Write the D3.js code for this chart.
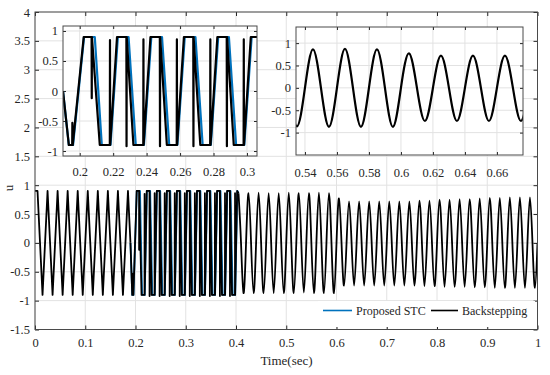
<!DOCTYPE html>
<html lang="en">
<head>
  <meta charset="UTF-8" />
  <title>Control input u</title>
  <script src="https://d3js.org/d3.v7.min.js"></script>
  <style>
    body {
      margin: 0;
      background: white;
    }

    svg {
      font-family: 'Liberation Serif', 'Times New Roman', serif;
    }

    .grid line {
      stroke: #e2e2e2;
      stroke-width: 1;
    }

    .axis line {
      stroke: #262626;
    }

    .frame {
      fill: none;
      stroke: #4a4a4a;
      stroke-width: 1;
    }

    .sig {
      fill: none;
      stroke-linejoin: round;
    }
  </style>
</head>

<body>
  <script>
    // ---- ticks ----
    const timeTicks = [0, 0.1, 0.2, 0.3, 0.4, 0.5, 0.6, 0.7, 0.8, 0.9, 1];
    const uTicks = [-1.5, -1, -0.5, 0, 0.5, 1, 1.5, 2, 2.5, 3, 3.5, 4];
    const zoomATicksX = [0.2, 0.22, 0.24, 0.26, 0.28, 0.3];
    const zoomBTicksX = [0.54, 0.56, 0.58, 0.6, 0.62, 0.64, 0.66];
    const zoomTicksY = [-1, -0.5, 0, 0.5, 1];

    // ---- Backstepping, 0 .. 0.19 s, one value every 5 ms ----
    const earlyStep = 0.005;
    const bsEarly = [
      0.9, 0.9, 0, -0.9, 0, 0.9, 0, -0.9, 0, 0.9, 0, -0.9, 0, 0.9, 0, -0.9,
      0, 0.9, 0, -0.9, 0, 0.9, 0, -0.9, 0, 0.9, 0, -0.9, 0, 0.9, 0, -0.9,
      0, 0.9, 0, -0.9, 0, 0.9, 0
    ];

    // ---- Backstepping, switching part 0.19 .. 0.405 s (t, u) ----
    const bsMid = [
      [0.19, 0], [0.1935, -0.9], [0.1955, -0.9], [0.1956, -0.53], [0.1958, -0.9], [0.2024, 0.9], [0.2071, 0.9], [0.2072, -0.12], [0.2073, 0.9], [0.212, -0.9],
      [0.218, -0.9], [0.2181, 0.85], [0.2182, -0.9], [0.2223, 0.9], [0.2279, 0.9], [0.228, -0.92], [0.2281, 0.9], [0.2321, -0.9],
      [0.238, -0.9], [0.2381, 0.86], [0.2382, -0.9], [0.2423, 0.9], [0.2479, 0.9], [0.248, -0.92], [0.2481, 0.9], [0.2521, -0.9],
      [0.258, -0.9], [0.2581, 0.86], [0.2582, -0.9], [0.2623, 0.9], [0.2679, 0.9], [0.268, -0.92], [0.2681, 0.9], [0.2721, -0.9],
      [0.278, -0.9], [0.2781, 0.86], [0.2782, -0.9], [0.2823, 0.9], [0.2879, 0.9], [0.288, -0.92], [0.2881, 0.9], [0.2921, -0.9],
      [0.298, -0.9], [0.2981, 0.86], [0.2982, -0.9], [0.3023, 0.9], [0.3079, 0.9], [0.308, -0.92], [0.3081, 0.9], [0.3121, -0.9],
      [0.318, -0.9], [0.3181, 0.86], [0.3182, -0.9], [0.3223, 0.9], [0.3279, 0.9], [0.328, -0.92], [0.3281, 0.9], [0.3321, -0.9],
      [0.338, -0.9], [0.3381, 0.86], [0.3382, -0.9], [0.3423, 0.9], [0.3479, 0.9], [0.348, -0.92], [0.3481, 0.9], [0.3521, -0.9],
      [0.358, -0.9], [0.3581, 0.86], [0.3582, -0.9], [0.3623, 0.9], [0.3679, 0.9], [0.368, -0.92], [0.3681, 0.9], [0.3721, -0.9],
      [0.378, -0.9], [0.3781, 0.86], [0.3782, -0.9], [0.3823, 0.9], [0.3879, 0.9], [0.388, -0.92], [0.3881, 0.9], [0.3921, -0.9],
      [0.398, -0.9], [0.3981, 0.86], [0.3982, -0.9], [0.4023, 0.9], [0.405, 0.86]
    ];

    // ---- Proposed STC, visible part 0.19 .. 0.405 s (t, u) ----
    const stcMid = [
      [0.19, 0], [0.1935, -0.9], [0.196, -0.9], [0.2026, 0.9], [0.209, 0.9], [0.2132, -0.9],
      [0.2184, -0.9], [0.2228, 0.9], [0.2292, 0.9], [0.2335, -0.9],
      [0.2384, -0.9], [0.2428, 0.9], [0.2492, 0.9], [0.2535, -0.9],
      [0.2584, -0.9], [0.2628, 0.9], [0.2692, 0.9], [0.2735, -0.9],
      [0.2784, -0.9], [0.2828, 0.9], [0.2892, 0.9], [0.2935, -0.9],
      [0.2984, -0.9], [0.3028, 0.9], [0.3092, 0.9], [0.3135, -0.9],
      [0.3184, -0.9], [0.3228, 0.9], [0.3292, 0.9], [0.3335, -0.9],
      [0.3384, -0.9], [0.3428, 0.9], [0.3492, 0.9], [0.3535, -0.9],
      [0.3584, -0.9], [0.3628, 0.9], [0.3692, 0.9], [0.3735, -0.9],
      [0.3784, -0.9], [0.3828, 0.9], [0.3892, 0.9], [0.3935, -0.9],
      [0.3984, -0.9], [0.4028, 0.9], [0.405, 0.86]
    ];

    // ---- Backstepping, 0.405 .. 1 s, one value every 5 ms ----
    const lateStart = 0.405;
    const bsLate = [
      0.86, 0, -0.87, 0, 0.86, 0, -0.87, 0, 0.87, 0, -0.87, 0, 0.86, 0, -0.87, 0,
      0.86, 0, -0.87, 0, 0.87, 0, -0.87, 0, 0.86, 0, -0.86, 0, 0.86, 0, -0.87, 0,
      0.87, 0, -0.87, 0, 0.86, 0, -0.87, 0,
      0.77, 0, -0.74, 0, 0.72, 0, -0.74, 0, 0.72, 0, -0.74, 0, 0.72, 0, -0.74, 0,
      0.72, 0, -0.74, 0, 0.72, 0, -0.74, 0, 0.72, 0, -0.74, 0, 0.72, 0, -0.74, 0,
      0.73, 0, -0.75, 0, 0.73, 0, -0.75, 0,
      0.75, 0, -0.76, 0, 0.75, 0, -0.76, 0, 0.76, 0, -0.76, 0, 0.76, 0, -0.77, 0,
      0.77, 0, -0.77, 0, 0.78, 0, -0.78, 0, 0.78, 0, -0.78, 0, 0.79, 0, -0.78, 0,
      0.79, 0, -0.78, 0, 0.79, 0, -0.78, 0
    ];

    const earlyPts = bsEarly.map((u, i) => [i * earlyStep, u]);
    const latePts = bsLate.map((u, i) => [lateStart + i * earlyStep, u]);

    const W = 550, H = 375;
    const serif = "'Liberation Serif', 'Times New Roman', serif";
    const svg = d3.select('body').append('svg')
      .attr('width', W)
      .attr('height', H);

    const fmt = d => String(d);

    // draws an axes box with grid, inward ticks, and returns the scales
    function panel(g, id, px, py, xd, yd, xt, yt, opt) {
      const x = d3.scaleLinear().domain(xd).range(px);
      const y = d3.scaleLinear().domain(yd).range(py);

      g.append('clipPath').attr('id', id)
        .append('rect')
        .attr('x', px[0]).attr('y', py[1])
        .attr('width', px[1] - px[0]).attr('height', py[0] - py[1]);

      g.append('rect')
        .attr('x', px[0]).attr('y', py[1])
        .attr('width', px[1] - px[0]).attr('height', py[0] - py[1])
        .attr('fill', 'white');

      const grid = g.append('g').attr('class', 'grid');
      grid.selectAll('.gx').data(xt).enter().append('line')
        .attr('x1', d => x(d)).attr('x2', d => x(d))
        .attr('y1', py[0]).attr('y2', py[1]);
      grid.selectAll('.gy').data(yt).enter().append('line')
        .attr('x1', px[0]).attr('x2', px[1])
        .attr('y1', d => y(d)).attr('y2', d => y(d));

      const t = opt.tick;
      const ax = g.append('g').attr('class', 'axis')
        .attr('transform', `translate(0,${py[0]})`)
        .call(d3.axisBottom(x).tickValues(xt).tickFormat(fmt).tickSizeInner(-t).tickSizeOuter(0).tickPadding(opt.padX));
      const ay = g.append('g').attr('class', 'axis')
        .attr('transform', `translate(${px[0]},0)`)
        .call(d3.axisLeft(y).tickValues(yt).tickFormat(fmt).tickSizeInner(-t).tickSizeOuter(0).tickPadding(opt.padY));
      const at = g.append('g').attr('class', 'axis')
        .attr('transform', `translate(0,${py[1]})`)
        .call(d3.axisTop(x).tickValues(xt).tickFormat('').tickSizeInner(-t).tickSizeOuter(0));
      const ar = g.append('g').attr('class', 'axis')
        .attr('transform', `translate(${px[1]},0)`)
        .call(d3.axisRight(y).tickValues(yt).tickFormat('').tickSizeInner(-t).tickSizeOuter(0));
      [ax, ay, at, ar].forEach(a => {
        a.select('.domain').remove();
        a.attr('font-family', serif).attr('font-size', 12.5);
        a.selectAll('text').style('font-family', serif).style('font-size', '12.5px').attr('fill', '#262626');
      });

      return { x, y };
    }

    function frame(g, px, py) {
      g.append('rect').attr('class', 'frame')
        .attr('x', px[0]).attr('y', py[1])
        .attr('width', px[1] - px[0]).attr('height', py[0] - py[1]);
    }

    function drawLine(g, clip, s, pts, color, width, curve) {
      g.append('path')
        .datum(pts)
        .attr('class', 'sig')
        .attr('clip-path', `url(#${clip})`)
        .attr('stroke', color)
        .attr('stroke-width', width)
        .attr('d', d3.line().x(d => s.x(d[0])).y(d => s.y(d[1])).curve(curve));
    }

    const blue = '#0072bd';
    const black = '#000000';

    // ---- main axes ----
    const mainG = svg.append('g');
    const mainPx = [35, 537.5], mainPy = [329.5, 12];
    const m = panel(mainG, 'clipMain', mainPx, mainPy, [0, 1], [-1.5, 4], timeTicks, uTicks,
      { tick: 4, padX: 9, padY: 5 });
    drawLine(mainG, 'clipMain', m, stcMid, blue, 1.8, d3.curveLinear);
    drawLine(mainG, 'clipMain', m, earlyPts, black, 1.8, d3.curveLinear);
    drawLine(mainG, 'clipMain', m, bsMid, black, 1.8, d3.curveLinear);
    drawLine(mainG, 'clipMain', m, latePts, black, 1.8, d3.curveNatural);

    // legend
    const leg = mainG.append('g');
    leg.append('rect')
      .attr('x', 318).attr('y', 301).attr('width', 217).attr('height', 26)
      .attr('fill', 'white');
    leg.append('line').attr('x1', 323).attr('x2', 352).attr('y1', 310.5).attr('y2', 310.5)
      .attr('stroke', blue).attr('stroke-width', 1.6);
    leg.append('text').attr('x', 356).attr('y', 315).attr('font-size', '12px').attr('fill', '#262626')
      .text('Proposed STC');
    leg.append('line').attr('x1', 431).attr('x2', 458).attr('y1', 310.5).attr('y2', 310.5)
      .attr('stroke', black).attr('stroke-width', 1.6);
    leg.append('text').attr('x', 462).attr('y', 315).attr('font-size', '12px').attr('fill', '#262626')
      .text('Backstepping');

    frame(mainG, mainPx, mainPy);

    svg.append('text')
      .attr('x', 286.5).attr('y', 365)
      .attr('text-anchor', 'middle')
      .attr('font-size', '13px')
      .attr('fill', '#262626')
      .text('Time(sec)');

    svg.append('text')
      .attr('transform', 'translate(13,188) rotate(-90)')
      .attr('text-anchor', 'middle')
      .attr('font-size', '13px')
      .attr('fill', '#262626')
      .text('u');

    // ---- inset A: switching part ----
    const insA = svg.append('g');
    const aPx = [63, 257], aPy = [156, 26];
    const a = panel(insA, 'clipA', aPx, aPy, [0.19, 0.306], [-1.083, 1.083], zoomATicksX, zoomTicksY,
      { tick: 3, padX: 11, padY: 5 });
    drawLine(insA, 'clipA', a, stcMid, blue, 2.2, d3.curveLinear);
    drawLine(insA, 'clipA', a, bsMid, black, 2.2, d3.curveLinear);
    frame(insA, aPx, aPy);

    // ---- inset B: smooth part ----
    const insB = svg.append('g');
    const bPx = [296, 523], bPy = [155, 27];
    const b = panel(insB, 'clipB', bPx, bPy, [0.5344, 0.6763], [-1.5, 1.36], zoomBTicksX, zoomTicksY,
      { tick: 3, padX: 13, padY: 5 });
    drawLine(insB, 'clipB', b, latePts, black, 2.2, d3.curveNatural);
    frame(insB, bPx, bPy);
  </script>
</body>

</html>
